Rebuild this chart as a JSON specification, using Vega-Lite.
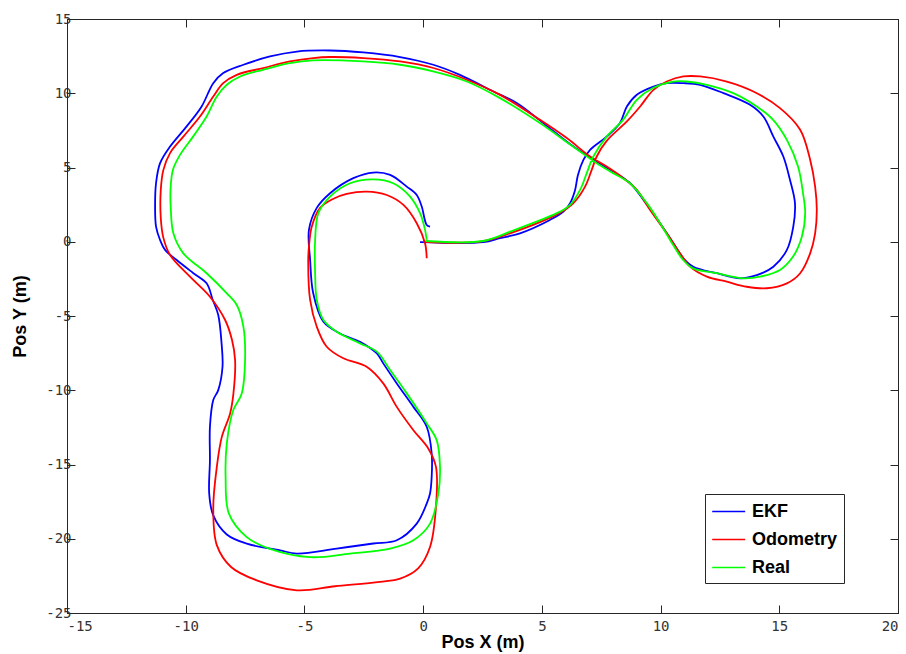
{
  "$schema": "https://vega.github.io/schema/vega-lite/v6.json",
  "autosize": {"type": "none"},
  "width": 831,
  "height": 594,
  "padding": {"left": 67, "top": 19, "right": 8, "bottom": 41},
  "background": "white",
  "config": {
    "view": {"stroke": "#262626", "strokeWidth": 1},
    "axis": {
      "grid": false,
      "domainColor": "#262626",
      "tickColor": "#262626",
      "tickSize": -8,
      "labelFont": "DejaVu Sans Mono",
      "labelFontSize": 14,
      "labelColor": "#333333",
      "labelExpr": "'' + datum.value",
      "titleFont": "Liberation Sans",
      "titleFontSize": 18,
      "titleFontWeight": "bold",
      "titleColor": "#000000"
    }
  },
  "datasets": {
    "paths": [
      {"s":"EKF","i":1,"x":-0.13,"y":-0.03},{"s":"EKF","i":2,"x":2.54,"y":-0.03},{"s":"EKF","i":3,"x":3.24,"y":0.24},{"s":"EKF","i":4,"x":4.08,"y":0.57},{"s":"EKF","i":5,"x":5.34,"y":1.47},{"s":"EKF","i":6,"x":5.91,"y":2.03},{"s":"EKF","i":7,"x":6.19,"y":2.6},{"s":"EKF","i":8,"x":6.4,"y":3.49},{"s":"EKF","i":9,"x":6.52,"y":4.5},{"s":"EKF","i":10,"x":6.75,"y":5.51},{"s":"EKF","i":11,"x":7.03,"y":6.19},{"s":"EKF","i":12,"x":7.73,"y":7.08},{"s":"EKF","i":13,"x":8.29,"y":7.99},{"s":"EKF","i":14,"x":8.58,"y":9.11},{"s":"EKF","i":15,"x":9.0,"y":9.9},{"s":"EKF","i":16,"x":9.7,"y":10.45},{"s":"EKF","i":17,"x":10.26,"y":10.68},{"s":"EKF","i":18,"x":10.96,"y":10.68},{"s":"EKF","i":19,"x":11.66,"y":10.57},{"s":"EKF","i":20,"x":12.65,"y":10.01},{"s":"EKF","i":21,"x":13.77,"y":9.22},{"s":"EKF","i":22,"x":14.33,"y":8.43},{"s":"EKF","i":23,"x":14.75,"y":7.08},{"s":"EKF","i":24,"x":15.17,"y":5.74},{"s":"EKF","i":25,"x":15.45,"y":4.17},{"s":"EKF","i":26,"x":15.66,"y":2.6},{"s":"EKF","i":27,"x":15.59,"y":1.02},{"s":"EKF","i":28,"x":15.32,"y":-0.55},{"s":"EKF","i":29,"x":14.75,"y":-1.68},{"s":"EKF","i":30,"x":14.05,"y":-2.25},{"s":"EKF","i":31,"x":13.35,"y":-2.46},{"s":"EKF","i":32,"x":12.37,"y":-2.12},{"s":"EKF","i":33,"x":11.38,"y":-1.68},{"s":"EKF","i":34,"x":10.96,"y":-1.11},{"s":"EKF","i":35,"x":10.54,"y":-0.1},{"s":"EKF","i":36,"x":9.98,"y":1.25},{"s":"EKF","i":37,"x":9.28,"y":2.82},{"s":"EKF","i":38,"x":8.72,"y":3.94},{"s":"EKF","i":39,"x":8.01,"y":4.73},{"s":"EKF","i":40,"x":7.31,"y":5.4},{"s":"EKF","i":41,"x":6.33,"y":6.41},{"s":"EKF","i":42,"x":5.06,"y":7.99},{"s":"EKF","i":43,"x":3.94,"y":9.34},{"s":"EKF","i":44,"x":2.96,"y":10.12},{"s":"EKF","i":45,"x":1.55,"y":11.24},{"s":"EKF","i":46,"x":0.43,"y":11.92},{"s":"EKF","i":47,"x":-0.97,"y":12.44},{"s":"EKF","i":48,"x":-2.52,"y":12.75},{"s":"EKF","i":49,"x":-3.92,"y":12.88},{"s":"EKF","i":50,"x":-5.32,"y":12.81},{"s":"EKF","i":51,"x":-6.45,"y":12.48},{"s":"EKF","i":52,"x":-7.57,"y":11.92},{"s":"EKF","i":53,"x":-8.42,"y":11.36},{"s":"EKF","i":54,"x":-8.84,"y":10.68},{"s":"EKF","i":55,"x":-9.33,"y":9.11},{"s":"EKF","i":56,"x":-9.96,"y":7.77},{"s":"EKF","i":57,"x":-10.66,"y":6.41},{"s":"EKF","i":58,"x":-11.08,"y":5.29},{"s":"EKF","i":59,"x":-11.25,"y":3.94},{"s":"EKF","i":60,"x":-11.29,"y":2.37},{"s":"EKF","i":61,"x":-11.25,"y":1.02},{"s":"EKF","i":62,"x":-11.08,"y":0.12},{"s":"EKF","i":63,"x":-10.87,"y":-0.55},{"s":"EKF","i":64,"x":-10.38,"y":-1.23},{"s":"EKF","i":65,"x":-9.69,"y":-2.1},{"s":"EKF","i":66,"x":-9.12,"y":-2.8},{"s":"EKF","i":67,"x":-8.86,"y":-3.92},{"s":"EKF","i":68,"x":-8.63,"y":-4.93},{"s":"EKF","i":69,"x":-8.49,"y":-6.84},{"s":"EKF","i":70,"x":-8.45,"y":-8.42},{"s":"EKF","i":71,"x":-8.63,"y":-9.99},{"s":"EKF","i":72,"x":-8.84,"y":-10.66},{"s":"EKF","i":73,"x":-8.98,"y":-12.47},{"s":"EKF","i":74,"x":-8.98,"y":-14.71},{"s":"EKF","i":75,"x":-9.01,"y":-16.97},{"s":"EKF","i":76,"x":-8.84,"y":-18.43},{"s":"EKF","i":77,"x":-8.27,"y":-19.71},{"s":"EKF","i":78,"x":-7.43,"y":-20.33},{"s":"EKF","i":79,"x":-6.03,"y":-20.78},{"s":"EKF","i":80,"x":-5.32,"y":-21.0},{"s":"EKF","i":81,"x":-3.64,"y":-20.66},{"s":"EKF","i":82,"x":-2.1,"y":-20.32},{"s":"EKF","i":83,"x":-1.11,"y":-20.1},{"s":"EKF","i":84,"x":-0.27,"y":-18.98},{"s":"EKF","i":85,"x":0.15,"y":-17.63},{"s":"EKF","i":86,"x":0.29,"y":-16.95},{"s":"EKF","i":87,"x":0.36,"y":-15.83},{"s":"EKF","i":88,"x":0.36,"y":-14.26},{"s":"EKF","i":89,"x":0.15,"y":-12.46},{"s":"EKF","i":90,"x":-0.41,"y":-11.12},{"s":"EKF","i":91,"x":-1.11,"y":-9.54},{"s":"EKF","i":92,"x":-1.68,"y":-8.19},{"s":"EKF","i":93,"x":-1.95,"y":-7.52},{"s":"EKF","i":94,"x":-2.66,"y":-6.74},{"s":"EKF","i":95,"x":-3.5,"y":-6.18},{"s":"EKF","i":96,"x":-4.2,"y":-5.39},{"s":"EKF","i":97,"x":-4.63,"y":-3.47},{"s":"EKF","i":98,"x":-4.76,"y":-1.23},{"s":"EKF","i":99,"x":-4.81,"y":0.8},{"s":"EKF","i":100,"x":-4.48,"y":2.28},{"s":"EKF","i":101,"x":-3.92,"y":3.27},{"s":"EKF","i":102,"x":-2.94,"y":4.28},{"s":"EKF","i":103,"x":-2.1,"y":4.66},{"s":"EKF","i":104,"x":-1.39,"y":4.5},{"s":"EKF","i":105,"x":-0.69,"y":3.71},{"s":"EKF","i":106,"x":-0.27,"y":3.15},{"s":"EKF","i":107,"x":-0.06,"y":2.37},{"s":"EKF","i":108,"x":0.15,"y":1.13},{"s":"EKF","i":109,"x":0.29,"y":1.02},
      {"s":"Odometry","i":1,"x":0.0,"y":0.0},{"s":"Odometry","i":2,"x":2.4,"y":0.01},{"s":"Odometry","i":3,"x":3.66,"y":0.57},{"s":"Odometry","i":4,"x":5.77,"y":1.96},{"s":"Odometry","i":5,"x":6.33,"y":2.6},{"s":"Odometry","i":6,"x":6.82,"y":3.71},{"s":"Odometry","i":7,"x":7.1,"y":4.84},{"s":"Odometry","i":8,"x":7.31,"y":5.74},{"s":"Odometry","i":9,"x":7.73,"y":6.79},{"s":"Odometry","i":10,"x":8.58,"y":8.1},{"s":"Odometry","i":11,"x":9.14,"y":9.11},{"s":"Odometry","i":12,"x":9.7,"y":10.23},{"s":"Odometry","i":13,"x":10.26,"y":10.79},{"s":"Odometry","i":14,"x":10.96,"y":11.13},{"s":"Odometry","i":15,"x":11.67,"y":11.13},{"s":"Odometry","i":16,"x":12.79,"y":10.79},{"s":"Odometry","i":17,"x":13.91,"y":10.12},{"s":"Odometry","i":18,"x":15.03,"y":9.0},{"s":"Odometry","i":19,"x":15.88,"y":7.54},{"s":"Odometry","i":20,"x":16.3,"y":5.52},{"s":"Odometry","i":21,"x":16.51,"y":3.71},{"s":"Odometry","i":22,"x":16.58,"y":2.14},{"s":"Odometry","i":23,"x":16.51,"y":0.57},{"s":"Odometry","i":24,"x":16.3,"y":-0.78},{"s":"Odometry","i":25,"x":15.88,"y":-2.12},{"s":"Odometry","i":26,"x":15.32,"y":-2.8},{"s":"Odometry","i":27,"x":14.47,"y":-3.13},{"s":"Odometry","i":28,"x":13.63,"y":-3.03},{"s":"Odometry","i":29,"x":12.79,"y":-2.69},{"s":"Odometry","i":30,"x":11.95,"y":-2.35},{"s":"Odometry","i":31,"x":11.24,"y":-1.68},{"s":"Odometry","i":32,"x":10.82,"y":-0.78},{"s":"Odometry","i":33,"x":10.26,"y":0.57},{"s":"Odometry","i":34,"x":9.56,"y":2.14},{"s":"Odometry","i":35,"x":9.0,"y":3.49},{"s":"Odometry","i":36,"x":8.43,"y":4.28},{"s":"Odometry","i":37,"x":7.73,"y":5.06},{"s":"Odometry","i":38,"x":7.03,"y":5.74},{"s":"Odometry","i":39,"x":6.05,"y":6.98},{"s":"Odometry","i":40,"x":4.92,"y":8.21},{"s":"Odometry","i":41,"x":3.24,"y":9.89},{"s":"Odometry","i":42,"x":1.84,"y":10.91},{"s":"Odometry","i":43,"x":0.43,"y":11.7},{"s":"Odometry","i":44,"x":-0.97,"y":12.14},{"s":"Odometry","i":45,"x":-2.52,"y":12.37},{"s":"Odometry","i":46,"x":-3.92,"y":12.44},{"s":"Odometry","i":47,"x":-4.63,"y":12.37},{"s":"Odometry","i":48,"x":-5.61,"y":12.14},{"s":"Odometry","i":49,"x":-6.73,"y":11.7},{"s":"Odometry","i":50,"x":-7.85,"y":11.24},{"s":"Odometry","i":51,"x":-8.42,"y":10.68},{"s":"Odometry","i":52,"x":-8.84,"y":9.78},{"s":"Odometry","i":53,"x":-9.4,"y":8.43},{"s":"Odometry","i":54,"x":-10.1,"y":7.08},{"s":"Odometry","i":55,"x":-10.66,"y":5.97},{"s":"Odometry","i":56,"x":-10.94,"y":4.84},{"s":"Odometry","i":57,"x":-11.05,"y":3.49},{"s":"Odometry","i":58,"x":-11.05,"y":1.6},{"s":"Odometry","i":59,"x":-10.94,"y":0.26},{"s":"Odometry","i":60,"x":-10.66,"y":-0.89},{"s":"Odometry","i":61,"x":-9.82,"y":-2.35},{"s":"Odometry","i":62,"x":-8.98,"y":-3.7},{"s":"Odometry","i":63,"x":-8.34,"y":-5.27},{"s":"Odometry","i":64,"x":-8.05,"y":-6.62},{"s":"Odometry","i":65,"x":-7.92,"y":-7.97},{"s":"Odometry","i":66,"x":-7.99,"y":-10.21},{"s":"Odometry","i":67,"x":-8.13,"y":-11.56},{"s":"Odometry","i":68,"x":-8.48,"y":-13.14},{"s":"Odometry","i":69,"x":-8.69,"y":-15.16},{"s":"Odometry","i":70,"x":-8.84,"y":-17.94},{"s":"Odometry","i":71,"x":-8.69,"y":-20.43},{"s":"Odometry","i":72,"x":-8.09,"y":-21.9},{"s":"Odometry","i":73,"x":-7.01,"y":-22.8},{"s":"Odometry","i":74,"x":-5.32,"y":-23.47},{"s":"Odometry","i":75,"x":-3.71,"y":-23.2},{"s":"Odometry","i":76,"x":-1.82,"y":-22.9},{"s":"Odometry","i":77,"x":-0.97,"y":-22.68},{"s":"Odometry","i":78,"x":-0.21,"y":-21.99},{"s":"Odometry","i":79,"x":0.29,"y":-20.55},{"s":"Odometry","i":80,"x":0.54,"y":-17.86},{"s":"Odometry","i":81,"x":0.54,"y":-15.16},{"s":"Odometry","i":82,"x":0.21,"y":-13.9},{"s":"Odometry","i":83,"x":-0.41,"y":-12.69},{"s":"Odometry","i":84,"x":-1.11,"y":-11.12},{"s":"Odometry","i":85,"x":-1.68,"y":-9.54},{"s":"Odometry","i":86,"x":-2.38,"y":-8.42},{"s":"Odometry","i":87,"x":-3.36,"y":-7.85},{"s":"Odometry","i":88,"x":-4.06,"y":-7.07},{"s":"Odometry","i":89,"x":-4.48,"y":-5.72},{"s":"Odometry","i":90,"x":-4.76,"y":-3.92},{"s":"Odometry","i":91,"x":-4.84,"y":-1.23},{"s":"Odometry","i":92,"x":-4.81,"y":-0.33},{"s":"Odometry","i":93,"x":-4.69,"y":1.02},{"s":"Odometry","i":94,"x":-4.34,"y":2.28},{"s":"Odometry","i":95,"x":-3.8,"y":2.88},{"s":"Odometry","i":96,"x":-3.22,"y":3.22},{"s":"Odometry","i":97,"x":-2.38,"y":3.38},{"s":"Odometry","i":98,"x":-1.53,"y":3.15},{"s":"Odometry","i":99,"x":-0.83,"y":2.48},{"s":"Odometry","i":100,"x":-0.27,"y":1.25},{"s":"Odometry","i":101,"x":0.08,"y":-0.1},{"s":"Odometry","i":102,"x":0.15,"y":-1.11},
      {"s":"Real","i":1,"x":0.1,"y":0.05},{"s":"Real","i":2,"x":2.52,"y":0.05},{"s":"Real","i":3,"x":3.66,"y":0.68},{"s":"Real","i":4,"x":5.77,"y":2.03},{"s":"Real","i":5,"x":6.19,"y":2.48},{"s":"Real","i":6,"x":6.61,"y":3.49},{"s":"Real","i":7,"x":6.89,"y":4.62},{"s":"Real","i":8,"x":7.16,"y":5.72},{"s":"Real","i":9,"x":7.73,"y":7.08},{"s":"Real","i":10,"x":8.42,"y":8.21},{"s":"Real","i":11,"x":9.0,"y":9.56},{"s":"Real","i":12,"x":9.68,"y":10.35},{"s":"Real","i":13,"x":10.53,"y":10.79},{"s":"Real","i":14,"x":11.1,"y":10.79},{"s":"Real","i":15,"x":11.95,"y":10.57},{"s":"Real","i":16,"x":13.06,"y":10.01},{"s":"Real","i":17,"x":14.05,"y":9.11},{"s":"Real","i":18,"x":14.74,"y":8.21},{"s":"Real","i":19,"x":15.32,"y":6.86},{"s":"Real","i":20,"x":15.79,"y":5.06},{"s":"Real","i":21,"x":16.0,"y":3.27},{"s":"Real","i":22,"x":16.09,"y":1.92},{"s":"Real","i":23,"x":15.95,"y":0.34},{"s":"Real","i":24,"x":15.58,"y":-1.0},{"s":"Real","i":25,"x":15.03,"y":-1.9},{"s":"Real","i":26,"x":14.19,"y":-2.35},{"s":"Real","i":27,"x":13.48,"y":-2.46},{"s":"Real","i":28,"x":12.37,"y":-2.12},{"s":"Real","i":29,"x":11.37,"y":-1.79},{"s":"Real","i":30,"x":10.95,"y":-1.23},{"s":"Real","i":31,"x":10.53,"y":-0.22},{"s":"Real","i":32,"x":9.98,"y":1.25},{"s":"Real","i":33,"x":9.42,"y":2.6},{"s":"Real","i":34,"x":8.71,"y":3.94},{"s":"Real","i":35,"x":8.0,"y":4.62},{"s":"Real","i":36,"x":7.31,"y":5.29},{"s":"Real","i":37,"x":6.31,"y":6.41},{"s":"Real","i":38,"x":4.92,"y":7.99},{"s":"Real","i":39,"x":3.24,"y":9.67},{"s":"Real","i":40,"x":1.84,"y":10.79},{"s":"Real","i":41,"x":0.42,"y":11.47},{"s":"Real","i":42,"x":-0.97,"y":11.92},{"s":"Real","i":43,"x":-2.53,"y":12.14},{"s":"Real","i":44,"x":-4.64,"y":12.21},{"s":"Real","i":45,"x":-5.61,"y":12.03},{"s":"Real","i":46,"x":-6.75,"y":11.58},{"s":"Real","i":47,"x":-7.71,"y":11.13},{"s":"Real","i":48,"x":-8.27,"y":10.57},{"s":"Real","i":49,"x":-8.69,"y":9.78},{"s":"Real","i":50,"x":-9.12,"y":8.43},{"s":"Real","i":51,"x":-9.69,"y":7.08},{"s":"Real","i":52,"x":-10.24,"y":5.85},{"s":"Real","i":53,"x":-10.54,"y":4.84},{"s":"Real","i":54,"x":-10.64,"y":3.49},{"s":"Real","i":55,"x":-10.63,"y":2.28},{"s":"Real","i":56,"x":-10.52,"y":0.57},{"s":"Real","i":57,"x":-10.1,"y":-0.78},{"s":"Real","i":58,"x":-9.12,"y":-2.12},{"s":"Real","i":59,"x":-8.27,"y":-3.47},{"s":"Real","i":60,"x":-7.85,"y":-4.26},{"s":"Real","i":61,"x":-7.57,"y":-5.73},{"s":"Real","i":62,"x":-7.5,"y":-7.98},{"s":"Real","i":63,"x":-7.64,"y":-10.22},{"s":"Real","i":64,"x":-8.0,"y":-11.35},{"s":"Real","i":65,"x":-8.27,"y":-13.59},{"s":"Real","i":66,"x":-8.32,"y":-15.85},{"s":"Real","i":67,"x":-8.18,"y":-18.31},{"s":"Real","i":68,"x":-7.43,"y":-19.89},{"s":"Real","i":69,"x":-6.45,"y":-20.68},{"s":"Real","i":70,"x":-4.76,"y":-21.24},{"s":"Real","i":71,"x":-3.08,"y":-21.0},{"s":"Real","i":72,"x":-1.39,"y":-20.66},{"s":"Real","i":73,"x":-0.41,"y":-20.1},{"s":"Real","i":74,"x":0.29,"y":-18.98},{"s":"Real","i":75,"x":0.64,"y":-16.95},{"s":"Real","i":76,"x":0.71,"y":-15.16},{"s":"Real","i":77,"x":0.57,"y":-13.36},{"s":"Real","i":78,"x":0.15,"y":-12.23},{"s":"Real","i":79,"x":-0.69,"y":-10.21},{"s":"Real","i":80,"x":-1.39,"y":-8.64},{"s":"Real","i":81,"x":-1.95,"y":-7.4},{"s":"Real","i":82,"x":-2.66,"y":-6.84},{"s":"Real","i":83,"x":-3.64,"y":-6.06},{"s":"Real","i":84,"x":-4.2,"y":-5.27},{"s":"Real","i":85,"x":-4.48,"y":-3.92},{"s":"Real","i":86,"x":-4.55,"y":-2.12},{"s":"Real","i":87,"x":-4.55,"y":0.12},{"s":"Real","i":88,"x":-4.41,"y":1.94},{"s":"Real","i":89,"x":-3.92,"y":3.04},{"s":"Real","i":90,"x":-3.08,"y":3.94},{"s":"Real","i":91,"x":-2.1,"y":4.2},{"s":"Real","i":92,"x":-1.26,"y":3.94},{"s":"Real","i":93,"x":-0.55,"y":3.04},{"s":"Real","i":94,"x":-0.13,"y":1.92},{"s":"Real","i":95,"x":0.08,"y":0.8},{"s":"Real","i":96,"x":0.15,"y":0.12}
    ]
  },
  "data": {"name": "paths"},
  "layer": [
    {
      "mark": {"type": "line", "strokeWidth": 1.8, "interpolate": "catmull-rom"},
      "encoding": {
        "x": {"field": "x", "type": "quantitative", "scale": {"domain": [-15, 20], "nice": false, "zero": false},
              "axis": {"orient": "bottom", "values": [-15,-10,-5,0,5,10,15,20], "title": "Pos X (m)", "labelPadding": 14, "titlePadding": 0}},
        "y": {"field": "y", "type": "quantitative", "scale": {"domain": [-25, 15], "nice": false, "zero": false},
              "axis": {"orient": "left", "values": [-25,-20,-15,-10,-5,0,5,10,15], "title": "Pos Y (m)", "labelPadding": 4, "titlePadding": 16}},
        "color": {"field": "s", "type": "nominal",
                  "scale": {"domain": ["EKF", "Odometry", "Real"], "range": ["#0000ff", "#ff0000", "#00ff00"]},
                  "legend": {"title": null, "orient": "none", "legendX": 638, "legendY": 475,
                             "symbolType": "M-1,0H2.2", "symbolSize": 425, "symbolStrokeWidth": 1.5,
                             "labelFont": "Liberation Sans", "labelFontSize": 18, "labelFontWeight": "bold", "labelColor": "#000000",
                             "labelOffset": 18, "padding": 6, "rowPadding": 7,
                             "strokeColor": "#262626", "fillColor": "#ffffff"}},
        "order": {"field": "i", "type": "quantitative"}
      }
    },
    {
      "mark": {"type": "point", "opacity": 0},
      "encoding": {
        "x": {"field": "x", "type": "quantitative", "axis": {"orient": "top", "values": [-15,-10,-5,0,5,10,15,20], "labels": false, "title": null}},
        "y": {"field": "y", "type": "quantitative", "axis": {"orient": "right", "values": [-25,-20,-15,-10,-5,0,5,10,15], "labels": false, "title": null}}
      }
    }
  ],
  "resolve": {"axis": {"x": "independent", "y": "independent"}}
}
